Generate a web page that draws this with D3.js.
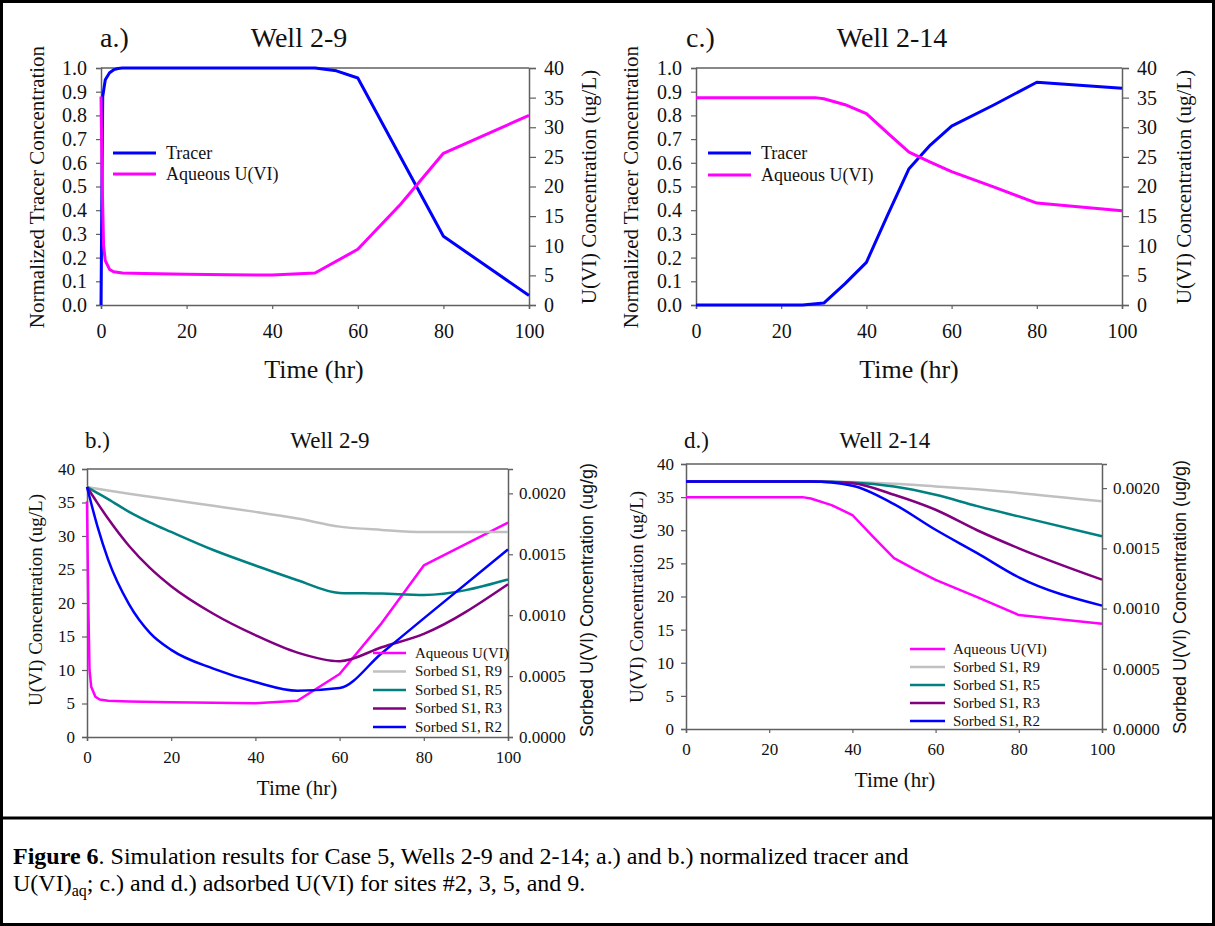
<!DOCTYPE html>
<html>
<head>
<meta charset="utf-8">
<script src="https://cdn.jsdelivr.net/npm/d3@7"></script>
<style>
  body { margin: 0; background: #fff; }
  svg { display: block; }
</style>
</head>
<body>
<script>
// ---- data ----
// panel a (Well 2-9): tracer on left axis, aqueous U(VI) on right axis
const aTracerT = [0, 0.4, 1, 2, 3, 4, 5, 10, 20, 30, 40, 50, 55, 60, 80, 100]
const aTracerV = [0, 0.88, 0.95, 0.98, 0.993, 0.998, 1, 1, 1, 1, 1, 1, 0.988, 0.958, 0.29, 0.04]
const aAqT = [0, 0.3, 0.6, 1, 2, 3, 5, 10, 20, 30, 40, 50, 60, 70, 80, 100]
const aAqV = [35.2, 20, 10, 7.5, 6, 5.6, 5.4, 5.3, 5.2, 5.1, 5.05, 5.4, 9.4, 17, 25.6, 32]

// panel c (Well 2-14)
const cTracerT = [0, 10, 20, 25, 30, 35, 40, 45, 50, 55, 60, 70, 80, 100]
const cTracerV = [0, 0, 0, 0, 0.008, 0.09, 0.18, 0.38, 0.575, 0.675, 0.755, 0.845, 0.94, 0.915]
const cAqT = [0, 10, 20, 28, 30, 35, 40, 45, 50, 55, 60, 70, 80, 100]
const cAqV = [35, 35, 35, 35, 34.8, 33.8, 32.3, 29, 25.8, 24.1, 22.5, 19.9, 17.2, 15.9]

// panel b (Well 2-9) sorbed U(VI), ug/g
const bTime = [0, 2.5, 5, 10, 15, 20, 30, 40, 50, 60, 70, 80, 100]
const bR9 = [0.002052, 0.002038, 0.002024, 0.001997, 0.001972, 0.001947, 0.001898, 0.001848, 0.001793, 0.001727, 0.0017, 0.001683, 0.001683]
const bR5 = [0.002052, 0.002002, 0.001953, 0.001848, 0.00176, 0.001683, 0.001535, 0.001408, 0.001287, 0.001183, 0.001177, 0.001166, 0.001293]
const bR3 = [0.002052, 0.00192, 0.001793, 0.001568, 0.001386, 0.001238, 0.001012, 0.000836, 0.000693, 0.000622, 0.000737, 0.000847, 0.001254]
const bR2 = [0.002052, 0.001727, 0.001458, 0.001089, 0.000853, 0.000715, 0.000561, 0.000451, 0.00038, 0.000402, 0.000688, 0.000974, 0.00154]

// panel d (Well 2-14) sorbed U(VI), ug/g
const dTime = [0, 10, 20, 30, 40, 50, 60, 70, 80, 100]
const dR9 = [0.002055, 0.002055, 0.002055, 0.002055, 0.00205, 0.002036, 0.002014, 0.00199, 0.00196, 0.00189]
const dR5 = [0.002055, 0.002055, 0.002055, 0.002055, 0.002047, 0.002014, 0.001945, 0.00185, 0.001765, 0.0016]
const dR3 = [0.002055, 0.002055, 0.002055, 0.002055, 0.00204, 0.001945, 0.00182, 0.00165, 0.0015, 0.00124]
const dR2 = [0.002055, 0.002055, 0.002055, 0.002055, 0.00202, 0.001867, 0.001654, 0.00146, 0.001259, 0.001024]

const timeTicks = [0, 20, 40, 60, 80, 100]
const tracerTicks = [0, 0.1, 0.2, 0.3, 0.4, 0.5, 0.6, 0.7, 0.8, 0.9, 1.0]
const concTicks = [0, 5, 10, 15, 20, 25, 30, 35, 40]
const sorbedTicks = [0, 0.0005, 0.001, 0.0015, 0.002]

const names2 = ['Tracer', 'Aqueous U(VI)']
const names5 = ['Aqueous U(VI)', 'Sorbed S1, R9', 'Sorbed S1, R5', 'Sorbed S1, R3', 'Sorbed S1, R2']

const BLUE = '#0000ff'
const MAGENTA = '#ff00ff'
const GRAY = '#c0c0c0'
const TEAL = '#008080'
const PURPLE = '#800080'
const AXIS = '#606060'
const SERIF = '"Liberation Serif", "Times New Roman", serif'
const SANS = '"Liberation Sans", Arial, sans-serif'

const W = 1215
const H = 926

const svg = d3.select('body').append('svg').attr('width', W).attr('height', H)
svg.append('rect').attr('width', W).attr('height', H).attr('fill', '#fff')

function pairs(ts, vs) {
  return ts.map((t, i) => [t, vs[i]])
}

function drawPanel(p) {
  const x = d3.scaleLinear().domain([0, 100]).range([p.left, p.right])
  const yL = d3.scaleLinear().domain(p.leftDomain).range([p.bottom, p.top])
  const yR = d3.scaleLinear().domain(p.rightDomain).range([p.bottom, p.top])
  const g = svg.append('g')

  // top frame line of plot area
  g.append('line')
    .attr('x1', p.left).attr('x2', p.right)
    .attr('y1', p.top).attr('y2', p.top)
    .attr('stroke', AXIS).attr('stroke-width', 1.5)

  const styleAxis = function(ax, size) {
    ax.attr('font-family', SERIF).attr('font-size', size)
    ax.select('.domain').attr('stroke', AXIS).attr('stroke-width', 1.5)
    ax.selectAll('.tick line').attr('stroke', AXIS).attr('stroke-width', 1.2)
    ax.selectAll('.tick text').attr('fill', '#111')
  }

  g.append('g')
    .attr('transform', 'translate(0,' + p.bottom + ')')
    .call(d3.axisBottom(x).tickValues(timeTicks).tickSizeOuter(0)
      .tickSize(4).tickPadding(p.xPad))
    .call(ax => styleAxis(ax, p.tickFont))

  g.append('g')
    .attr('transform', 'translate(' + p.left + ',0)')
    .call(d3.axisLeft(yL).tickValues(p.leftTicks).tickFormat(p.leftFormat)
      .tickSizeOuter(0).tickSize(5).tickPadding(p.lPad))
    .call(ax => styleAxis(ax, p.tickFont))

  g.append('g')
    .attr('transform', 'translate(' + p.right + ',0)')
    .call(d3.axisRight(yR).tickValues(p.rightTicks).tickFormat(p.rightFormat)
      .tickSizeOuter(0).tickSize(p.rTick).tickPadding(p.rPad))
    .call(ax => styleAxis(ax, p.tickFont))

  // series
  p.series.forEach(function(s) {
    const y = s.axis === 'left' ? yL : yR
    const line = d3.line()
      .x(d => x(d[0]))
      .y(d => y(d[1]))
      .curve(s.smooth ? d3.curveMonotoneX : d3.curveLinear)
    g.append('path')
      .datum(pairs(s.t, s.v))
      .attr('d', line)
      .attr('fill', 'none')
      .attr('stroke', s.color)
      .attr('stroke-width', s.width)
      .attr('stroke-linejoin', 'round')
  })

  // legend
  const leg = g.append('g')
  p.legend.items.forEach(function(it, i) {
    const yy = p.legend.y + i * p.legend.step
    leg.append('line')
      .attr('x1', p.legend.x1).attr('x2', p.legend.x2)
      .attr('y1', yy).attr('y2', yy)
      .attr('stroke', it.color).attr('stroke-width', it.width)
    leg.append('text')
      .attr('x', p.legend.tx).attr('y', yy)
      .attr('dy', '0.33em')
      .attr('font-family', SERIF).attr('font-size', p.legend.font)
      .attr('fill', '#111')
      .text(it.name)
  })

  // panel letter and title
  g.append('text')
    .attr('x', p.letterX).attr('y', p.titleY)
    .attr('font-family', SERIF).attr('font-size', p.titleFont)
    .attr('fill', '#111')
    .text(p.letter)
  g.append('text')
    .attr('x', p.titleX).attr('y', p.titleY)
    .attr('text-anchor', 'middle')
    .attr('font-family', SERIF).attr('font-size', p.titleFont)
    .attr('fill', '#111')
    .text(p.title)

  // axis titles
  g.append('text')
    .attr('x', p.xTitleX).attr('y', p.xTitleY)
    .attr('text-anchor', 'middle')
    .attr('font-family', SERIF).attr('font-size', p.xTitleFont)
    .attr('fill', '#111')
    .text('Time (hr)')
  g.append('text')
    .attr('transform', 'translate(' + p.lTitleX + ',' + p.yTitleMid + ') rotate(-90)')
    .attr('text-anchor', 'middle')
    .attr('font-family', SERIF).attr('font-size', p.yTitleFont)
    .attr('fill', '#111')
    .text(p.lTitle)
  g.append('text')
    .attr('transform', 'translate(' + p.rTitleX + ',' + p.yTitleMid + ') rotate(-90)')
    .attr('text-anchor', 'middle')
    .attr('font-family', p.rTitleFamily).attr('font-size', p.rTitleFont)
    .attr('fill', '#111')
    .text(p.rTitle)
}

const fmt1 = d3.format('.1f')
const fmt0 = d3.format('d')
const fmt4 = d3.format('.4f')

const topCommon = {
  top: 68, bottom: 305,
  leftDomain: [0, 1], rightDomain: [0, 40],
  leftTicks: tracerTicks, rightTicks: concTicks,
  leftFormat: fmt1, rightFormat: fmt0,
  tickFont: 20, xPad: 15, lPad: 9, rTick: 7, rPad: 8,
  titleFont: 28, titleY: 47,
  xTitleFont: 26, xTitleY: 378,
  yTitleFont: 21, yTitleMid: 187,
  lTitle: 'Normalized Tracer Concentration',
  rTitle: 'U(VI) Concentration (ug/L)', rTitleFamily: SERIF, rTitleFont: 21
}

drawPanel(Object.assign({}, topCommon, {
  left: 101, right: 529,
  letter: 'a.)', letterX: 100, title: 'Well 2-9', titleX: 299,
  xTitleX: 314, lTitleX: 44, rTitleX: 596,
  series: [
    { t: aTracerT, v: aTracerV, axis: 'left', color: BLUE, width: 3 },
    { t: aAqT, v: aAqV, axis: 'right', color: MAGENTA, width: 3 }
  ],
  legend: { x1: 113, x2: 156, tx: 166, y: 153, step: 21, font: 18,
    items: [{ name: names2[0], color: BLUE, width: 3 }, { name: names2[1], color: MAGENTA, width: 3 }] }
}))

drawPanel(Object.assign({}, topCommon, {
  left: 696, right: 1122,
  letter: 'c.)', letterX: 686, title: 'Well 2-14', titleX: 892,
  xTitleX: 909, lTitleX: 638, rTitleX: 1191,
  series: [
    { t: cTracerT, v: cTracerV, axis: 'left', color: BLUE, width: 3 },
    { t: cAqT, v: cAqV, axis: 'right', color: MAGENTA, width: 3 }
  ],
  legend: { x1: 708, x2: 751, tx: 761, y: 153, step: 22, font: 18,
    items: [{ name: names2[0], color: BLUE, width: 3 }, { name: names2[1], color: MAGENTA, width: 3 }] }
}))

const botCommon = {
  leftDomain: [0, 40], rightDomain: [0, 0.0022],
  leftTicks: concTicks, rightTicks: sorbedTicks,
  leftFormat: fmt0, rightFormat: fmt4,
  tickFont: 17, xPad: 10, lPad: 7, rTick: 5, rPad: 6,
  titleFont: 23, titleY: 448,
  xTitleFont: 21,
  yTitleFont: 19,
  lTitle: 'U(VI) Concentration (ug/L)',
  rTitle: 'Sorbed U(VI) Concentration (ug/g)', rTitleFamily: SANS, rTitleFont: 18
}

const legend5 = [
  { name: names5[0], color: MAGENTA, width: 2.5 },
  { name: names5[1], color: GRAY, width: 2.5 },
  { name: names5[2], color: TEAL, width: 2.5 },
  { name: names5[3], color: PURPLE, width: 2.5 },
  { name: names5[4], color: BLUE, width: 2.5 }
]

drawPanel(Object.assign({}, botCommon, {
  left: 87, right: 508, top: 469, bottom: 737,
  letter: 'b.)', letterX: 85, title: 'Well 2-9', titleX: 330,
  xTitleX: 297, xTitleY: 795, lTitleX: 42, rTitleX: 593, yTitleMid: 600,
  series: [
    { t: aAqT, v: aAqV, axis: 'left', color: MAGENTA, width: 2.5 },
    { t: bTime, v: bR9, axis: 'right', color: GRAY, width: 2.5, smooth: true },
    { t: bTime, v: bR5, axis: 'right', color: TEAL, width: 2.5, smooth: true },
    { t: bTime, v: bR3, axis: 'right', color: PURPLE, width: 2.5, smooth: true },
    { t: bTime, v: bR2, axis: 'right', color: BLUE, width: 2.5, smooth: true }
  ],
  legend: { x1: 373, x2: 406, tx: 415, y: 653, step: 18.5, font: 15, items: legend5 }
}))

drawPanel(Object.assign({}, botCommon, {
  left: 686, right: 1102, top: 464, bottom: 729,
  letter: 'd.)', letterX: 684, title: 'Well 2-14', titleX: 885,
  xTitleX: 895, xTitleY: 787, lTitleX: 643, rTitleX: 1186, yTitleMid: 597,
  series: [
    { t: cAqT, v: cAqV, axis: 'left', color: MAGENTA, width: 2.5 },
    { t: dTime, v: dR9, axis: 'right', color: GRAY, width: 2.5, smooth: true },
    { t: dTime, v: dR5, axis: 'right', color: TEAL, width: 2.5, smooth: true },
    { t: dTime, v: dR3, axis: 'right', color: PURPLE, width: 2.5, smooth: true },
    { t: dTime, v: dR2, axis: 'right', color: BLUE, width: 2.5, smooth: true }
  ],
  legend: { x1: 910, x2: 945, tx: 953, y: 649, step: 18, font: 15, items: legend5 }
}))

// outer frame and caption box
svg.append('rect')
  .attr('x', 1.5).attr('y', 1.5).attr('width', W - 3).attr('height', H - 3)
  .attr('fill', 'none').attr('stroke', '#000').attr('stroke-width', 3)
svg.append('line')
  .attr('x1', 0).attr('x2', W).attr('y1', 818).attr('y2', 818)
  .attr('stroke', '#000').attr('stroke-width', 3)

const cap = svg.append('g')
  .attr('font-family', SERIF).attr('font-size', 24).attr('fill', '#000')
const cap1 = cap.append('text').attr('x', 13).attr('y', 864)
cap1.append('tspan').attr('font-weight', 'bold').text('Figure 6')
cap1.append('tspan').text('.  Simulation results for Case 5, Wells 2-9 and 2-14; a.) and b.) normalized tracer and')
const cap2 = cap.append('text').attr('x', 13).attr('y', 891)
cap2.append('tspan').text('U(VI)')
cap2.append('tspan').attr('dy', 5).attr('font-size', 16).text('aq')
cap2.append('tspan').attr('dy', -5).text('; c.) and d.) adsorbed U(VI) for sites #2, 3, 5, and 9.')
</script>
</body>
</html>
